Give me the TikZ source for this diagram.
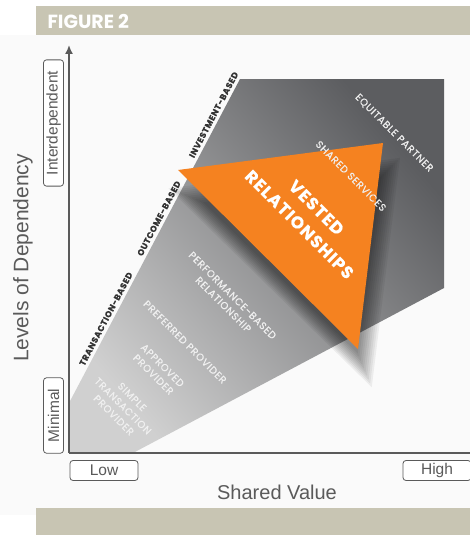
\documentclass[tikz,border=0pt]{standalone}
\usepackage{fontspec}
\setmainfont{Liberation Sans}
\newfontfamily\gothic{Poppins}[LetterSpace=7, FakeBold=0.5]
\newfontfamily\titlefont{Poppins}
\usetikzlibrary{arrows.meta}

\definecolor{bandgray}{HTML}{C8C5B3}
\definecolor{vestorange}{HTML}{F58220}
\definecolor{axisgray}{HTML}{5A5A5A}
\definecolor{darkfan}{HTML}{5C5D60}
\definecolor{midfan}{HTML}{909192}
\definecolor{lightfan}{HTML}{D0D0D0}

\tikzset{
  levelbox/.style={draw=axisgray, fill=white, rounded corners=3pt, line width=0.8pt,
    minimum width=68pt, minimum height=20pt, inner xsep=11pt, inner ysep=0pt,
    font=\fontsize{15.5}{16}\selectfont, text=axisgray},
  tier/.style={font=\gothic\bfseries\fontsize{8.5}{10}\selectfont, text=black!80, sloped, above},
  stage/.style={font=\gothic\fontsize{10}{13}\selectfont, text=white!94!black, align=center, rotate=-45},
}

\begin{document}
\begin{tikzpicture}[x=1pt, y=-1pt]
  \useasboundingbox (0,0) rectangle (470,535);

  % Panel and bands
  \fill[black!2] (0,35) rectangle (470,515);
  \fill[bandgray] (36,6) rectangle (470,35);
  \fill[bandgray] (36,508) rectangle (470,535);
  \node[anchor=west, text=white, font=\titlefont\bfseries\fontsize{19}{20}\selectfont] (title) at (44,21) {FIGURE 2};

  % Fan corners
  \coordinate (O) at (69,453);
  \coordinate (A) at (69,403);
  \coordinate (B) at (240,79);
  \coordinate (C) at (444,79);
  \coordinate (D) at (444,288);
  \coordinate (E) at (133,453);

  % Shaded fan
  \shade[top color=darkfan, middle color=midfan, bottom color=lightfan, shading angle=-50]
    (A) -- (B) -- (C) -- (D) -- (E) -- (O) -- cycle;

  % Relationship types along the fan edge
  \path (A) -- (B)
    node[tier, pos=.25] (transaction) {TRANSACTION-BASED}
    node[tier, pos=.56] (outcome) {OUTCOME-BASED}
    node[tier, pos=.88] (investment) {INVESTMENT-BASED};

  % Soft shadow: stacked scaled copies round the shadow centre
  \foreach \s in {0.86,0.89,...,1.13}
    \fill[black, opacity=.055, shift={(313,246)}, scale=\s]
      (-128,-51) -- (77,-78) -- (52,125) -- cycle;

  % Vested triangle
  \coordinate (T1) at (178,170);
  \coordinate (T2) at (383,143);
  \coordinate (T3) at (358,349);
  \fill[vestorange] (T1) -- (T2) -- (T3) -- cycle;

  % Provider stages
  \node[stage] (simple) at (123,406) {SIMPLE\\TRANSACTION\\PROVIDER};
  \node[stage] (approved) at (158,370) {APPROVED\\PROVIDER};
  \node[stage] (preferred) at (185,342) {PREFERRED PROVIDER};
  \node[stage] (performance) at (228,300) {PERFORMANCE-BASED\\RELATIONSHIP};
  \node[stage] (shared) at (351,176) {SHARED SERVICES};
  \node[stage] (equitable) at (394,133) {EQUITABLE PARTNER};
  \node[stage, text=white, font=\gothic\bfseries\fontsize{17}{24}\selectfont] (vested) at (308,216) {VESTED\\RELATIONSHIPS};

  % Axes
  \coordinate (ytop) at (69,45);
  \coordinate (xend) at (470,453);
  \draw[axisgray, line width=1.6pt, -{Latex[length=9pt, width=8pt]}] (O) -- (ytop);
  \draw[axisgray, line width=1.6pt] (O) -- (xend);

  % Axis labels
  \node[levelbox, rotate=90] (inter) at (53.5,123) {Interdependent};
  \node[levelbox, rotate=90] (minimal) at (53.5,415.5) {Minimal};
  \node[levelbox] (low) at (104,470.5) {Low};
  \node[levelbox] (high) at (437,470.5) {High};
  \node[rotate=90, font=\fontsize{21}{24}\selectfont, text=axisgray] (dependency) at (23,258) {Levels of Dependency};
  \node[font=\fontsize{20}{24}\selectfont, text=axisgray] (value) at (277,492) {Shared Value};
\end{tikzpicture}
\end{document}
